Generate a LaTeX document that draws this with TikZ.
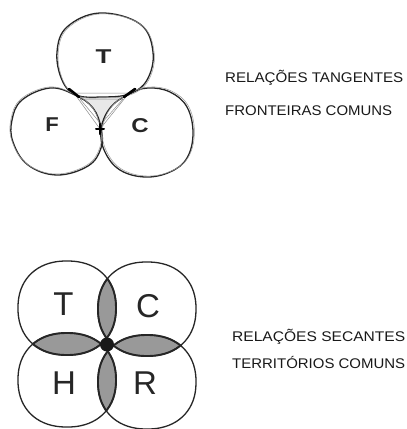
\documentclass[tikz,border=0pt]{standalone}
\usepackage{fontspec}
\setmainfont{Liberation Sans}
\usepackage{graphicx}

% hand-drawn outlines of the three tangent territories
\newcommand\shapeT[1]{\path[#1] plot[smooth cycle, tension=0.65] coordinates
  {(57,52) (67,27) (100,13) (140,24) (153,52) (147,80) (129,94) (102,97) (76,95) (62,80)};}
\newcommand\shapeF[1]{\path[#1] plot[smooth cycle, tension=0.65] coordinates
  {(22,100) (50,88) (75,95) (93,108) (101,128) (101,148) (88,166) (57,175) (28,165) (13,142) (12,120)};}
\newcommand\shapeC[1]{\path[#1] plot[smooth cycle, tension=0.65] coordinates
  {(129,94) (148,88) (170,92) (187,107) (193,133) (187,158) (170,172) (145,177) (120,170) (105,152) (101,130) (110,108)};}
% round territory centred at (#1,#2), very slightly squared
\newcommand\terr[2]{plot[smooth, domain=1:361, samples=73, variable=\t]
  ({#1+49*sign(cos(\t))*abs(cos(\t))^0.9},{#2+47*sign(sin(\t))*abs(sin(\t))^0.9}) -- cycle}

\begin{document}
\begin{tikzpicture}[x=1pt,y=-1pt,
  outline/.style={draw=black!85, line width=1.3pt},
  sketchline/.style={draw=black!40, line width=0.5pt},
  tick/.style={draw=black, line width=2.6pt, line cap=round},
  lensfill/.style={fill=black!40},
  lensedge/.style={draw=black!85, line width=1.9pt},
  gapline/.style={draw=black!45, line width=0.5pt},
  bigletter/.style={inner sep=0pt, font=\fontsize{33}{33}\selectfont, text=black!85},
  smallletter/.style={inner sep=0pt, font=\bfseries\fontsize{20}{20}\selectfont, text=black!85},
  caption/.style={inner sep=0pt, anchor=base west, text=black!90, font=\fontsize{14}{14}\selectfont},
]
\useasboundingbox (0,0) rectangle (407,429);
\fill[white] (0,0) rectangle (407,429);

% ---------- tangent relations ----------
\coordinate (tf) at (74,93);
\coordinate (tc) at (129,93);
\coordinate (fc) at (100,129);
\fill[black!9] (105,55) -- (57,131) -- (147,132) -- cycle;
\shapeT{fill=white}
\shapeF{fill=white}
\shapeC{fill=white}
\draw[gapline] (tf) -- (tc) -- (fc) -- cycle;
\draw[gapline] (80,99) -- (123,99) -- (101,124) -- cycle;
\shapeT{outline}
\shapeF{outline}
\shapeC{outline}
\shapeT{sketchline, xshift=1.2pt, yshift=-0.8pt}
\shapeF{sketchline, xshift=-1pt, yshift=1pt}
\shapeC{sketchline, xshift=1.4pt, yshift=1pt}
\draw[tick] (69,89) -- (79,97);
\draw[tick] (124,97) -- (135,89);
\draw[tick] (100,124) -- (100,134);
\draw[tick, line width=2pt] (96,129) -- (104,129);

\node[smallletter, xscale=1.3] (lT) at (103.5,57) {T};
\node[smallletter, xscale=1.1] (lF) at (52,124.5) {F};
\node[smallletter, xscale=1.2] (lC) at (140,126) {C};

\node[caption] (cap1) at (225,82) {\resizebox{178pt}{\height}{RELAÇÕES TANGENTES}};
\node[caption] (cap2) at (225,115) {\resizebox{167pt}{\height}{FRONTEIRAS COMUNS}};

% ---------- secant relations ----------
\coordinate (cT) at (67,308);
\coordinate (cC) at (147,309);
\coordinate (cH) at (67,380);
\coordinate (cR) at (147,382);
\coordinate (mid) at (107,344.5);
\fill[black!45] (cT) -- (cC) -- (cR) -- (cH) -- cycle;
\path[fill=white] \terr{67}{308} \terr{147}{309} \terr{67}{380} \terr{147}{382};
\begin{scope}
  \path[clip] \terr{67}{308};
  \path[lensfill] \terr{147}{309} \terr{67}{380};
  \path[lensedge] \terr{147}{309} \terr{67}{380};
\end{scope}
\begin{scope}
  \path[clip] \terr{147}{382};
  \path[lensfill] \terr{147}{309} \terr{67}{380};
  \path[lensedge] \terr{147}{309} \terr{67}{380};
\end{scope}
\begin{scope}
  \path[clip] \terr{147}{309} \terr{67}{380};
  \path[lensedge] \terr{67}{308} \terr{147}{382};
\end{scope}
\path[outline] \terr{67}{308} \terr{147}{309} \terr{67}{380} \terr{147}{382};
\fill[black!90] (mid) circle[radius=7pt];

\node[bigletter] (bT) at (63.5,304.5) {T};
\node[bigletter] (bC) at (148,306.5) {C};
\node[bigletter] (bH) at (64,383.5) {H};
\node[bigletter] (bR) at (145,383.5) {R};

\node[caption] (cap3) at (232,341) {\resizebox{173pt}{\height}{RELAÇÕES SECANTES}};
\node[caption] (cap4) at (232,368) {\resizebox{173pt}{\height}{TERRITÓRIOS COMUNS}};
\end{tikzpicture}
\end{document}
